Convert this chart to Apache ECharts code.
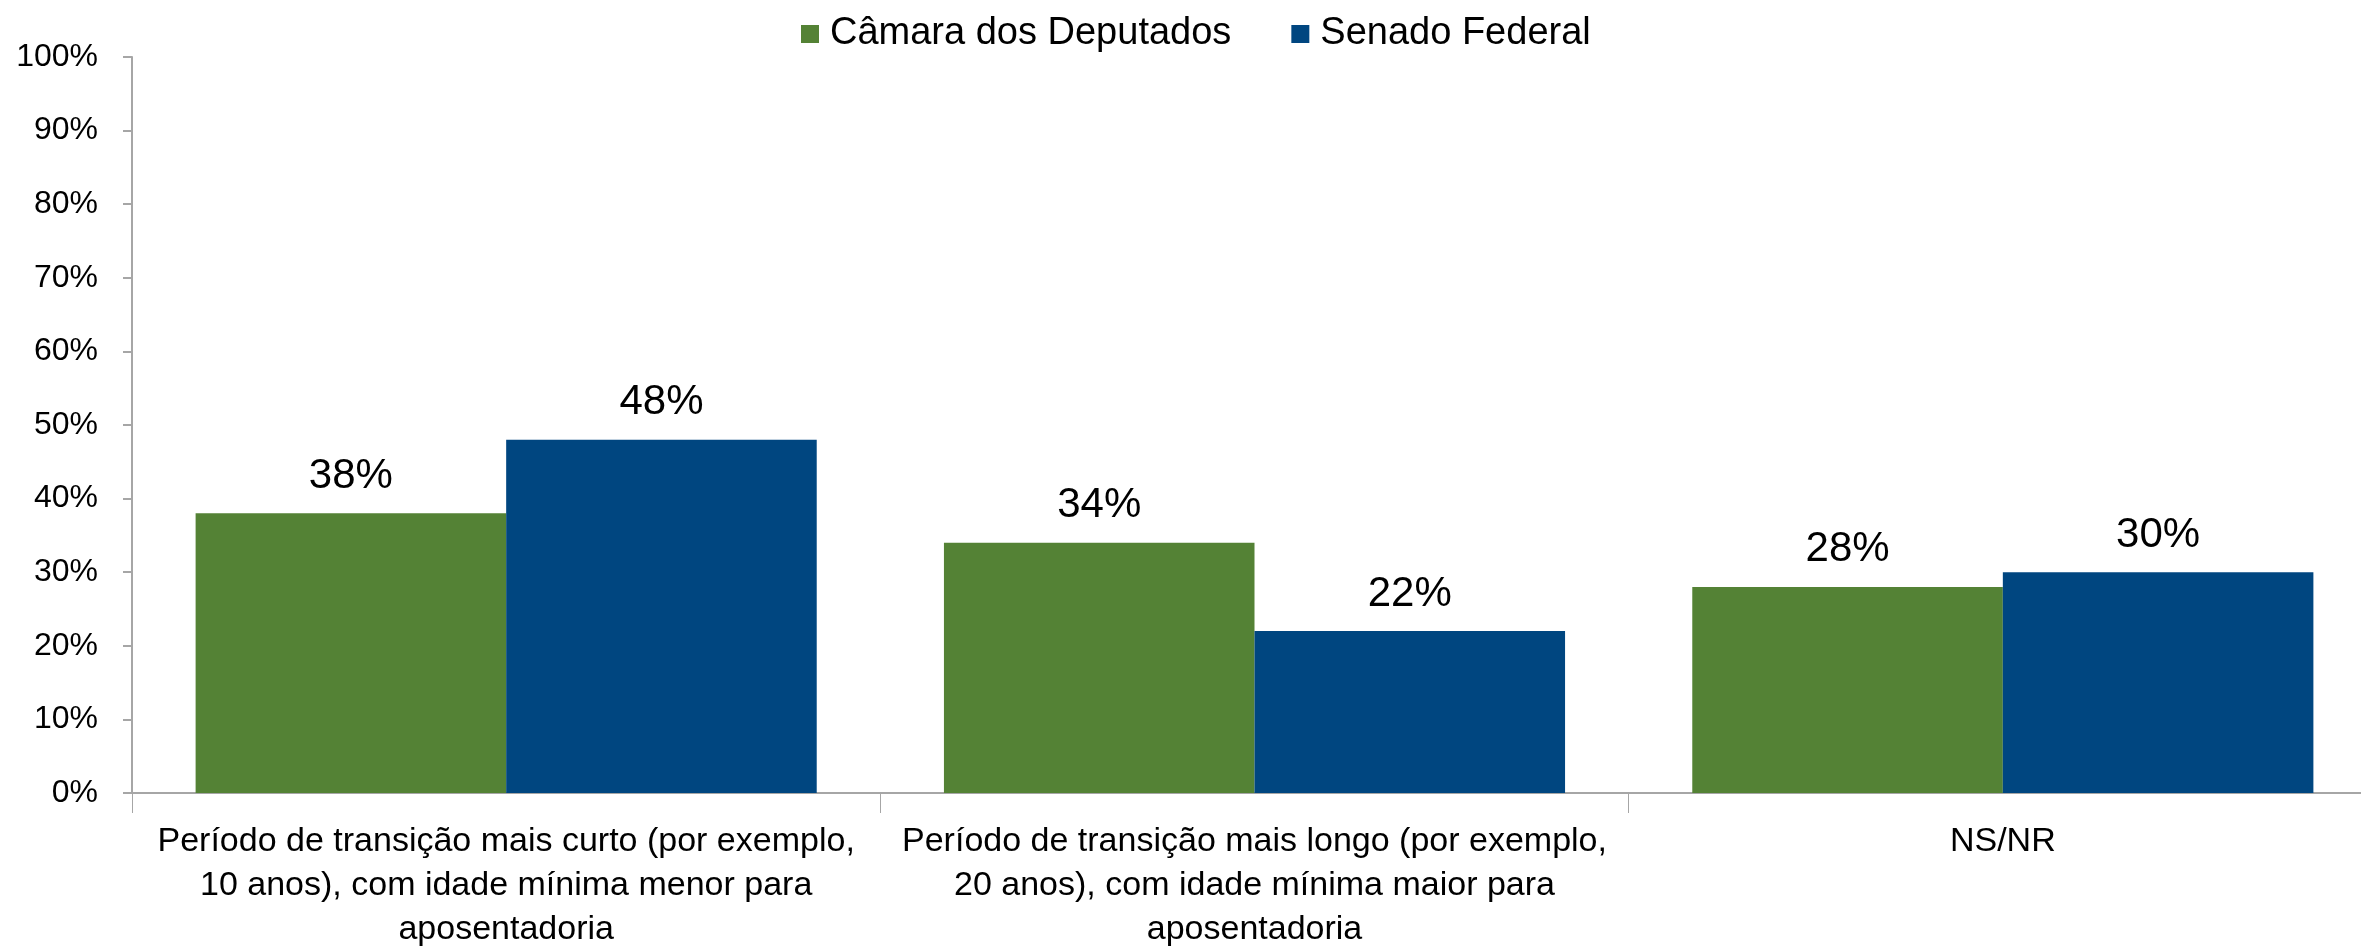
<!DOCTYPE html>
<html>
<head>
<meta charset="utf-8">
<script src="https://cdn.jsdelivr.net/npm/echarts@6/dist/echarts.min.js"></script>
<style>
    html, body { margin: 0; padding: 0; background: #fff; }
    #chart { width: 2361px; height: 949px; }
</style>
</head>
<body>
<div id="chart"></div>
<script>
const categories = [
    "Período de transição mais curto (por exemplo,\n10 anos), com idade mínima menor para\naposentadoria",
    "Período de transição mais longo (por exemplo,\n20 anos), com idade mínima maior para\naposentadoria",
    "NS/NR"
]
const camara = [38, 34, 28]
const senado = [48, 22, 30]
const seriesNames = ["Câmara dos Deputados", "Senado Federal"]
const colors = ["#548235", "#004680"]

const font = "Liberation Sans"

const chart = echarts.init(document.getElementById("chart"))

const barLabel = {
    show: true,
    position: "top",
    distance: 16,
    color: "#000",
    fontFamily: font,
    fontSize: 42,
    formatter: p => p.value + "%"
}

chart.setOption({
    animation: false,
    textStyle: { fontFamily: font },
    legend: {
        top: 10,
        left: 796,
        itemWidth: 18,
        itemHeight: 18,
        itemGap: 60,
        icon: "rect",
        textStyle: { fontSize: 38, color: "#000", fontFamily: font, padding: [0, 0, 0, 6] }
    },
    grid: {
        left: 132,
        right: -16,
        top: 57,
        bottom: 156,
        outerBoundsMode: "none",
        containLabel: false
    },
    xAxis: {
        type: "category",
        data: categories,
        axisLine: { lineStyle: { color: "#a6a6a6", width: 2 } },
        axisTick: { show: true, length: 20, lineStyle: { color: "#a6a6a6", width: 1 } },
        axisLabel: {
            interval: 0,
            margin: 27,
            color: "#000",
            fontSize: 34,
            lineHeight: 44,
            fontFamily: font
        }
    },
    yAxis: {
        type: "value",
        min: 0,
        max: 100,
        interval: 10,
        splitLine: { show: false },
        axisLine: { show: true, lineStyle: { color: "#a6a6a6", width: 2 } },
        axisTick: { show: true, length: 9, lineStyle: { color: "#a6a6a6", width: 2 } },
        axisLabel: {
            margin: 34,
            color: "#000",
            fontSize: 32,
            fontFamily: font,
            formatter: "{value}%"
        }
    },
    series: [
        {
            name: seriesNames[0],
            type: "bar",
            data: camara,
            color: colors[0],
            barGap: "0%",
            barCategoryGap: "17%",
            label: barLabel
        },
        {
            name: seriesNames[1],
            type: "bar",
            data: senado,
            color: colors[1],
            label: barLabel
        }
    ]
})

window.addEventListener("resize", () => chart.resize())
</script>
</body>
</html>
